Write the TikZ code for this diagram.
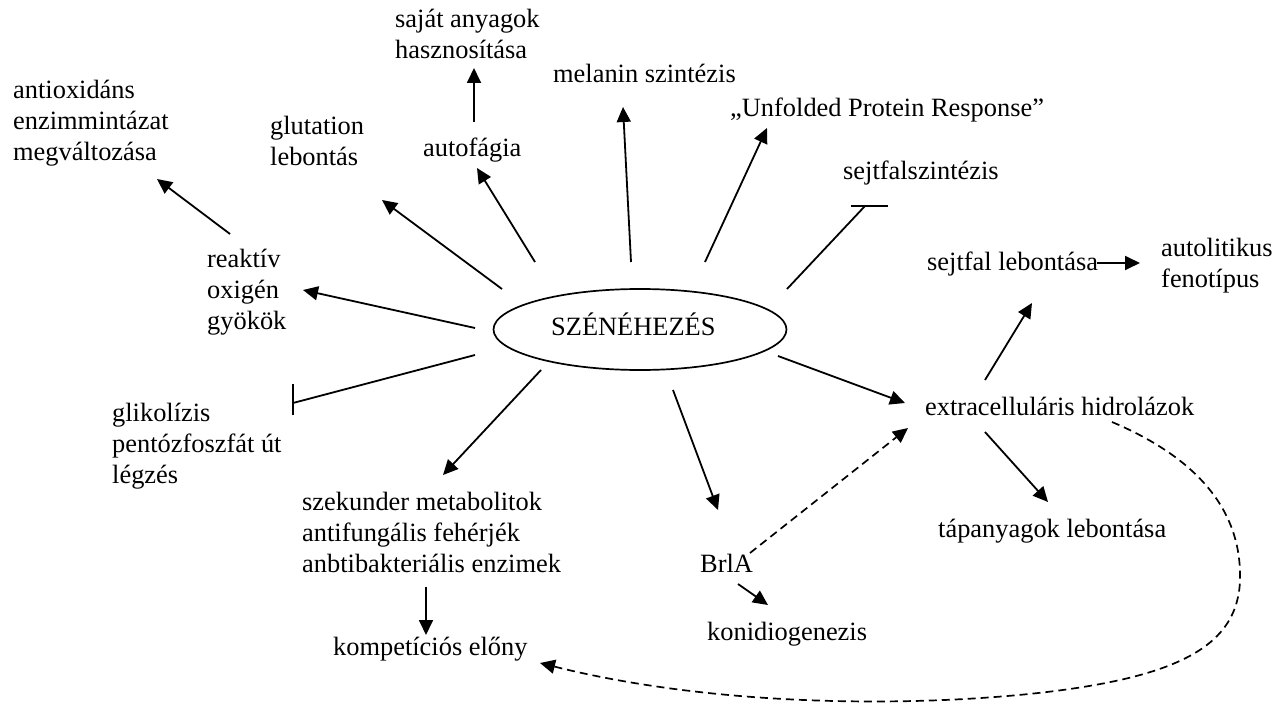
\documentclass[tikz,border=0pt]{standalone}
\usepackage{fontspec}
\setmainfont{Liberation Serif}
\usetikzlibrary{arrows.meta,shapes.geometric}
\begin{document}
\begin{tikzpicture}[x=1pt,y=-1pt,
  lbl/.style={inner sep=0pt, anchor=base west, font=\fontsize{26.4}{31}\selectfont},
  arr/.style={line width=1.8pt, -{Triangle[length=15pt,width=14pt]}},
  dsh/.style={line width=1.7pt, dash pattern=on 8pt off 5pt, -{Triangle[length=15pt,width=14pt]}},
  inh/.style={line width=1.8pt}]
\useasboundingbox (0,0) rectangle (1280,714);
% labels
\node[lbl] (anti) at (13,99) {\begin{tabular}[t]{@{}l@{}}antioxidáns\\enzimmintázat\\megváltozása\end{tabular}};
\node[lbl] (glut) at (270,135) {\begin{tabular}[t]{@{}l@{}}glutation\\lebontás\end{tabular}};
\node[lbl] (sajat) at (395,28) {\begin{tabular}[t]{@{}l@{}}saját anyagok\\hasznosítása\end{tabular}};
\node[lbl] (auto) at (423,157) {autofágia};
\node[lbl] (mel) at (553,83) {melanin szintézis};
\node[lbl] (upr) at (730,117) {„Unfolded Protein Response”};
\node[lbl] (sfsz) at (843,180) {sejtfalszintézis};
\node[lbl] (ros) at (207,268) {\begin{tabular}[t]{@{}l@{}}reaktív\\oxigén\\gyökök\end{tabular}};
\node[draw, ellipse, line width=1.7pt, minimum width=293pt, minimum height=81pt, inner sep=0pt] (sz) at (640,329.5) {};
\node[lbl] (szt) at (551,335) {SZÉNÉHEZÉS};
\node[lbl] (glik) at (112,421) {\begin{tabular}[t]{@{}l@{}}glikolízis\\pentózfoszfát út\\légzés\end{tabular}};
\node[lbl] (szek) at (302,510) {\begin{tabular}[t]{@{}l@{}}szekunder metabolitok\\antifungális fehérjék\\anbtibakteriális enzimek\end{tabular}};
\node[lbl] (komp) at (333,655) {kompetíciós előny};
\node[lbl] (brla) at (700,572) {BrlA};
\node[lbl] (koni) at (707,640) {konidiogenezis};
\node[lbl] (ext) at (925,415) {extracelluláris hidrolázok};
\node[lbl] (tap) at (938,537) {tápanyagok lebontása};
\node[lbl] (sfl) at (927,270) {sejtfal lebontása};
\node[lbl] (autol) at (1161,257) {\begin{tabular}[t]{@{}l@{}}autolitikus\\fenotípus\end{tabular}};
% connector end points
\coordinate (ros-a) at (230,234);   \coordinate (anti-a) at (157,179);
\coordinate (sz-glut) at (502,289); \coordinate (glut-a) at (382,200);
\coordinate (sz-auto) at (535,262); \coordinate (auto-a) at (477,168);
\coordinate (auto-s) at (474,122);  \coordinate (sajat-a) at (474,68);
\coordinate (sz-mel) at (631,262);  \coordinate (mel-a) at (623,107);
\coordinate (sz-upr) at (705,262);  \coordinate (upr-a) at (767,128);
\coordinate (sz-sfsz) at (787,289); \coordinate (sfsz-b) at (865,206);
\coordinate (sz-ros) at (475,328);  \coordinate (ros-b) at (303,290);
\coordinate (sz-glik) at (475,355); \coordinate (glik-b) at (293,403);
\coordinate (sz-szek) at (541,370); \coordinate (szek-a) at (443,475);
\coordinate (szek-k) at (426,587);  \coordinate (komp-a) at (426,635);
\coordinate (sz-brla) at (673,390); \coordinate (brla-a) at (718,510);
\coordinate (brla-k) at (738,584);  \coordinate (koni-a) at (768,605);
\coordinate (brla-e) at (750,553);  \coordinate (ext-b) at (908,428);
\coordinate (sz-ext) at (778,356);  \coordinate (ext-a) at (905,403);
\coordinate (ext-s) at (985,380);   \coordinate (sfl-a) at (1032,303);
\coordinate (ext-t) at (985,432);   \coordinate (tap-a) at (1048,502);
\coordinate (sfl-r) at (1097,263);  \coordinate (autol-a) at (1140,263);
\coordinate (ext-k) at (1112,422);  \coordinate (komp-b) at (540,663);
% connectors
\draw[arr] (ros-a) -- (anti-a);
\draw[arr] (sz-glut) -- (glut-a);
\draw[arr] (sz-auto) -- (auto-a);
\draw[arr] (auto-s) -- (sajat-a);
\draw[arr] (sz-mel) -- (mel-a);
\draw[arr] (sz-upr) -- (upr-a);
\draw[inh] (sz-sfsz) -- (sfsz-b);
\draw[inh] ([xshift=-14pt]sfsz-b) -- ([xshift=23pt]sfsz-b);
\draw[arr] (sz-ros) -- (ros-b);
\draw[inh] (sz-glik) -- (glik-b);
\draw[inh] ([yshift=-12pt]glik-b) -- ([yshift=19pt]glik-b);
\draw[arr] (sz-szek) -- (szek-a);
\draw[arr] (szek-k) -- (komp-a);
\draw[arr] (sz-brla) -- (brla-a);
\draw[arr] (brla-k) -- (koni-a);
\draw[dsh] (brla-e) -- (ext-b);
\draw[arr] (sz-ext) -- (ext-a);
\draw[arr] (ext-s) -- (sfl-a);
\draw[arr] (ext-t) -- (tap-a);
\draw[arr] (sfl-r) -- (autol-a);
\draw[dsh] (ext-k) .. controls (1190,455) and (1242,505) .. (1240,580)
  .. controls (1238,645) and (1180,676) .. (1047,692)
  .. controls (920,707) and (720,708) .. (komp-b);
\end{tikzpicture}
\end{document}
